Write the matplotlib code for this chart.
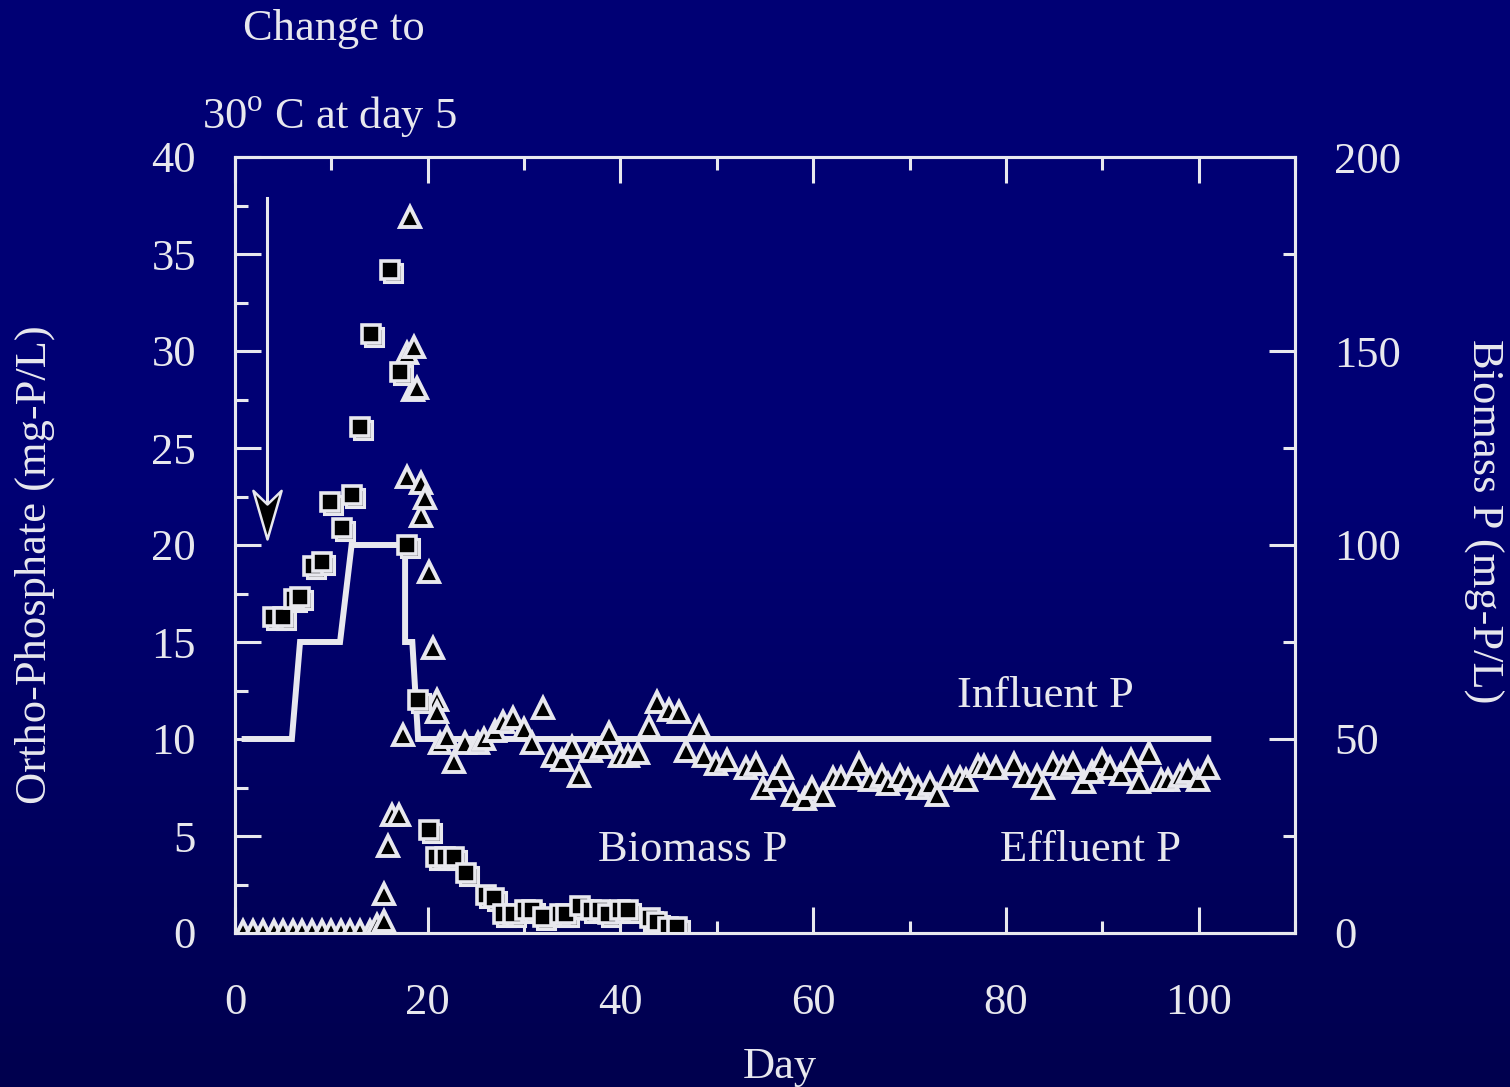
import numpy as np
import matplotlib
matplotlib.use("Agg")
import matplotlib.pyplot as plt
import matplotlib.transforms as mtransforms
from matplotlib.path import Path

# influent P (mg-P/L), stepped feed
infl_day = [1.0, 5.9, 6.75, 10.9, 12.1, 17.65, 17.65, 18.4, 19.0, 101.0]
infl_p = [10, 10, 15, 15, 20, 20, 15, 15, 10, 10]

# effluent ortho-P (mg-P/L)
eff_day = [0.8, 1.9, 2.9, 4.0, 5.0, 6.0, 7.0, 8.0, 9.0, 10.0, 11.0, 11.9, 13.0, 14.0,
           14.7, 15.5, 15.5, 15.9, 16.3, 17.0, 17.4, 17.8, 17.9, 18.2, 18.5, 18.6, 18.9,
           19.3, 19.3, 19.7, 20.1, 20.5, 21.0, 21.0, 21.3, 22.0, 22.7, 23.9, 25.2, 25.8,
           27.0, 27.8, 28.9, 30.0, 30.8, 32.0, 33.0, 33.9, 35.0, 35.7, 36.9, 38.1, 38.8,
           40.0, 40.8, 41.8, 43.0, 43.8, 45.0, 46.1, 46.8, 48.1, 48.7, 49.9, 51.1, 53.0,
           54.1, 54.8, 56.0, 56.8, 57.9, 59.1, 59.9, 61.0, 62.1, 62.9, 64.1, 64.8, 65.9,
           67.1, 67.8, 69.0, 69.8, 70.9, 72.1, 72.8, 74.0, 75.2, 75.9, 77.1, 77.7, 79.0,
           80.8, 82.0, 83.2, 83.9, 84.9, 85.9, 87.0, 88.1, 88.9, 90.0, 90.8, 91.9, 93.0,
           93.8, 94.9, 96.1, 96.8, 98.1, 98.9, 99.9, 101.0]
eff_p = [0.1, 0.1, 0.1, 0.1, 0.1, 0.1, 0.1, 0.1, 0.1, 0.1, 0.1, 0.1, 0.1, 0.1,
         0.4, 0.6, 2.0, 4.5, 6.1, 6.1, 10.2, 23.5, 29.9, 36.9, 28.0, 30.2, 28.1,
         23.2, 21.5, 22.4, 18.6, 14.7, 12.0, 11.4, 9.8, 10.1, 8.8, 9.8, 9.8, 10.0,
         10.4, 10.9, 11.1, 10.5, 9.8, 11.6, 9.1, 8.9, 9.6, 8.1, 9.4, 9.6, 10.3,
         9.1, 9.1, 9.3, 10.6, 11.9, 11.5, 11.4, 9.4, 10.6, 9.1, 8.7, 8.9, 8.5,
         8.7, 7.5, 7.9, 8.5, 7.1, 6.9, 7.5, 7.1, 8.0, 8.0, 8.0, 8.7, 7.9,
         8.1, 7.7, 8.1, 7.9, 7.5, 7.7, 7.1, 8.0, 8.0, 7.9, 8.6, 8.6, 8.5,
         8.7, 8.1, 8.1, 7.5, 8.7, 8.5, 8.7, 7.8, 8.3, 8.9, 8.5, 8.2, 8.9,
         7.8, 9.3, 7.9, 7.9, 8.1, 8.3, 7.9, 8.5]

# biomass P (mg-P/L), right axis
bio_day = [3.9, 5.0, 6.1, 6.75, 8.1, 9.0, 9.9, 11.1, 12.1, 13.0, 14.1, 16.1, 17.1, 17.9,
           19.0, 20.1, 20.9, 21.8, 22.7, 24.0, 26.0, 26.9, 27.8, 28.8, 30.1, 30.8, 32.0,
           33.7, 34.4, 35.8, 36.9, 37.9, 38.7, 40.0, 40.8, 43.1, 43.8, 44.9, 45.9]
bio_p = [81.5, 81.5, 86.0, 86.5, 94.5, 95.5, 111.0, 104.5, 113.0, 130.5, 154.5, 171.0, 144.5, 100.0,
         60.0, 26.5, 19.5, 19.5, 19.5, 15.5, 9.8, 9.0, 5.0, 5.0, 6.0, 6.0, 4.0,
         5.0, 5.0, 7.0, 6.0, 6.0, 5.0, 6.0, 6.0, 3.8, 2.8, 1.5, 1.5]

fg = "#E8E8EE"
plt.rcParams["font.family"] = ["Liberation Serif", "DejaVu Serif"]
plt.rcParams["mathtext.fontset"] = "custom"
plt.rcParams["mathtext.rm"] = "Liberation Serif"
fs = 32

fig = plt.figure(figsize=(15.10, 10.87), dpi=100)

# background gradient
bg = fig.add_axes([0, 0, 1, 1], zorder=-10)
t = np.linspace(0, 1, 256)
blue = np.where(t < 0.45, 0x74, 0x74 - (t - 0.45) / 0.55 * (0x74 - 0x4E)) / 255.0
grad = np.zeros((256, 1, 3))
grad[:, 0, 2] = blue
bg.imshow(grad, aspect="auto", extent=[0, 1, 0, 1])
bg.axis("off")

ax = fig.add_axes([235 / 1510, 154 / 1087, 1060 / 1510, 776 / 1087])
ax.patch.set_alpha(0)
ax2 = ax.twinx()

ax.plot(infl_day, infl_p, color=fg, lw=4.3, solid_joinstyle="miter", zorder=2)
ax.plot(eff_day, eff_p, linestyle="none", marker="^", ms=14.5, mfc="black",
        mec=fg, mew=2.8, zorder=3)

shadow = mtransforms.offset_copy(ax2.transData, fig=fig, x=3, y=-3, units="dots")
ax2.plot(bio_day, bio_p, linestyle="none", marker="s", ms=13.5, mfc="black",
         mec=fg, mew=2.2, transform=shadow)
ax2.plot(bio_day, bio_p, linestyle="none", marker="s", ms=13.5, mfc="black",
         mec=fg, mew=2.6)

ax.set_xlim(0, 110)
ax.set_ylim(0, 40)
ax2.set_ylim(0, 200)
ax.set_xticks(np.arange(0, 101, 20))
ax.set_xticks(np.arange(10, 111, 20), minor=True)
ax.set_yticks(np.arange(0, 41, 5))
ax.set_yticks(np.arange(2.5, 40, 5), minor=True)
ax2.set_yticks(np.arange(0, 201, 50))
ax2.set_yticks(np.arange(25, 200, 50), minor=True)

for a in (ax, ax2):
    for s in a.spines.values():
        s.set_color(fg)
        s.set_linewidth(2.2)
    a.tick_params(which="both", direction="in", colors=fg, width=2.2, labelsize=fs)
    a.tick_params(which="major", length=19)
    a.tick_params(which="minor", length=9)
ax.tick_params(axis="x", which="both", top=True, pad=36)
ax.tick_params(axis="y", which="both", right=False, pad=28)
ax2.tick_params(axis="y", which="both", pad=28)

# arrow marking the temperature change
ax.plot([3.3, 3.3], [37.9, 22.0], color=fg, lw=2.2, zorder=4)
head = Path([(0, 0), (-0.29, 1.0), (0, 0.72), (0.29, 1.0), (0, 0)],
            [Path.MOVETO, Path.LINETO, Path.LINETO, Path.LINETO, Path.CLOSEPOLY])
ax.plot([3.3], [20.3], marker=head, ms=70, mfc="black", mec=fg, mew=1.8, zorder=5)

ax.text(74.9, 12.2, "Influent P", color=fg, fontsize=fs, ha="left", va="center")
ax.text(37.7, 4.3, "Biomass P", color=fg, fontsize=fs, ha="left", va="center")
ax.text(79.4, 4.3, "Effluent P", color=fg, fontsize=fs, ha="left", va="center")

fig.text(0.2208, 0.963, "Change to", color=fg, fontsize=fs, ha="center", va="baseline")
fig.text(0.218, 0.882, r"30$^{\mathrm{o}}$ C at day 5", color=fg, fontsize=fs,
         ha="center", va="baseline")
fig.text(780 / 1510, 1 - 1067 / 1087, "Day", color=fg, fontsize=fs, ha="center", va="center")
fig.text(35 / 1510, 1 - 565 / 1087, "Ortho-Phosphate (mg-P/L)", color=fg, fontsize=fs,
         rotation=90, ha="center", va="center")
fig.text(1483 / 1510, 1 - 521 / 1087, "Biomass P (mg-P/L)", color=fg, fontsize=fs,
         rotation=270, ha="center", va="center")

fig.savefig("out.png", dpi=100)
plt.close(fig)
